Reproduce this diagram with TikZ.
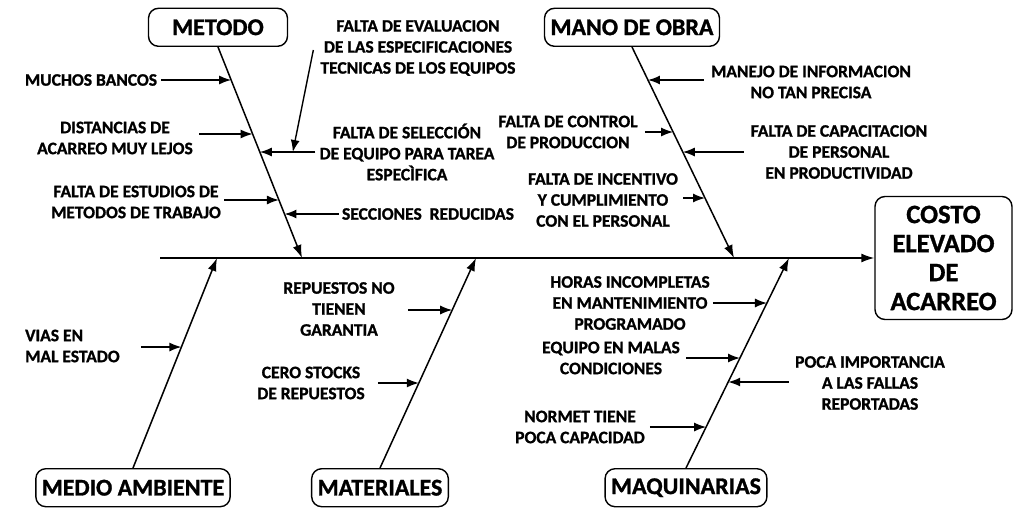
\documentclass[tikz,border=0pt]{standalone}
\usepackage{fontspec}
\setmainfont{Carlito}[BoldFeatures={FakeBold=1.2}]
\usepackage{tikz}
\usetikzlibrary{arrows.meta,calc}

\tikzset{
    catbox/.style={draw, line width=1.4pt, rounded corners=10pt, inner xsep=6pt,
        minimum height=38pt, font=\fontsize{24}{26}\selectfont\bfseries},
    cause/.style={inner sep=0pt, align=center, font=\fontsize{17.5}{21}\selectfont\bfseries},
    bone/.style={line width=1.5pt, -{Latex[length=13pt,width=9pt]}},
    causearrow/.style={line width=1.4pt, -{Latex[length=12pt,width=9pt]}}
}

\begin{document}
\begin{tikzpicture}[x=1pt,y=-1pt]
    \useasboundingbox (0,0) rectangle (1015,508);
    % Spine and effect
    \node[draw, line width=1.4pt, rounded corners=10pt, align=center,
        minimum width=137pt, minimum height=123pt,
        font=\fontsize{26.5}{29}\selectfont\bfseries] (costo) at (943.5,258)
        {COSTO\\ELEVADO\\DE\\ACARREO};
    \coordinate (spineStart) at (160,258);
    \draw[bone] (spineStart) -- (costo.west);
    % Bones
    \coordinate (tA) at (218,47);   \coordinate (bA) at (302,258);
    \coordinate (tB) at (632,47);   \coordinate (bB) at (734,258);
    \coordinate (tC) at (133,468);  \coordinate (bC) at (217,258);
    \coordinate (tD) at (380,468);  \coordinate (bD) at (476,258);
    \coordinate (tE) at (686,468);  \coordinate (bE) at (789,258);
    \node[catbox, anchor=south, minimum width=139pt] (metodo) at (tA) {METODO};
    \node[catbox, anchor=south] (manoobra) at (tB) {MANO DE OBRA};
    \node[catbox, anchor=north] (medio) at (tC) {MEDIO AMBIENTE};
    \node[catbox, anchor=north] (materiales) at (tD) {MATERIALES};
    \node[catbox, anchor=north] (maquinarias) at (tE) {MAQUINARIAS};
    \draw[bone] (metodo.south) -- (bA);
    \draw[bone] (manoobra.south) -- (bB);
    \draw[bone] (medio.north) -- (bC);
    \draw[bone] (materiales.north) -- (bD);
    \draw[bone] (maquinarias.north) -- (bE);

    % Metodo
    \node[cause] (m1) at (91,80) {MUCHOS BANCOS};
    \coordinate (m1e) at (intersection of tA--bA and 0,80--1,80);
    \draw[causearrow] (m1.east |- m1e) ++(4,0) -- (m1e);
    \node[cause] (m2) at (115,138) {DISTANCIAS DE\\ACARREO MUY LEJOS};
    \coordinate (m2e) at (intersection of tA--bA and 0,134--1,134);
    \draw[causearrow] (m2.east |- m2e) ++(6,0) -- (m2e);
    \node[cause] (m3) at (136,202) {FALTA DE ESTUDIOS DE\\METODOS DE TRABAJO};
    \coordinate (m3e) at (intersection of tA--bA and 0,200--1,200);
    \draw[causearrow] (m3.east |- m3e) ++(3,0) -- (m3e);
    \node[cause] (m4) at (407,152) {FALTA DE SELECCIÓN\\DE EQUIPO PARA TAREA\\ESPECÌFICA};
    \coordinate (m4e) at (intersection of tA--bA and 0,152--1,152);
    \draw[causearrow] (m4.west |- m4e) ++(-4,0) -- (m4e);
    \node[cause] (m5) at (418,48) {FALTA DE EVALUACION\\DE LAS ESPECIFICACIONES\\TECNICAS DE LOS EQUIPOS};
    \draw[causearrow] (m5.west) ++(-7,2) -- ($(m4e)+(33,0)$);
    \node[cause] (m6) at (428,214) {SECCIONES\ \ REDUCIDAS};
    \coordinate (m6e) at (intersection of tA--bA and 0,214--1,214);
    \draw[causearrow] (m6.west |- m6e) ++(-3,0) -- (m6e);

    % Mano de obra
    \node[cause] (n1) at (811,82) {MANEJO DE INFORMACION\\NO TAN PRECISA};
    \coordinate (n1e) at (intersection of tB--bB and 0,80--1,80);
    \draw[causearrow] (n1.west |- n1e) ++(-7,0) -- (n1e);
    \node[cause] (n2) at (568,132) {FALTA DE CONTROL\\DE PRODUCCION};
    \coordinate (n2e) at (intersection of tB--bB and 0,132--1,132);
    \draw[causearrow] (n2.east |- n2e) ++(7,0) -- (n2e);
    \node[cause] (n3) at (839,152) {FALTA DE CAPACITACION\\DE PERSONAL\\EN PRODUCTIVIDAD};
    \coordinate (n3e) at (intersection of tB--bB and 0,152--1,152);
    \draw[causearrow] (n3.west |- n3e) ++(-7,0) -- (n3e);
    \node[cause] (n4) at (603,200) {FALTA DE INCENTIVO\\Y CUMPLIMIENTO\\CON EL PERSONAL};
    \coordinate (n4e) at (intersection of tB--bB and 0,198--1,198);
    \draw[causearrow] (n4.east |- n4e) ++(5,0) -- (n4e);

    % Medio ambiente
    \node[cause, anchor=west, align=left] (c1) at (25,346) {VIAS EN\\MAL ESTADO};
    \coordinate (c1e) at (intersection of tC--bC and 0,347--1,347);
    \draw[causearrow] (c1.east |- c1e) ++(21,0) -- (c1e);

    % Materiales
    \node[cause] (d1) at (339,309) {REPUESTOS NO\\TIENEN\\GARANTIA};
    \coordinate (d1e) at (intersection of tD--bD and 0,310--1,310);
    \draw[causearrow] (d1.east |- d1e) ++(13,0) -- (d1e);
    \node[cause] (d2) at (311,383) {CERO STOCKS\\DE REPUESTOS};
    \coordinate (d2e) at (intersection of tD--bD and 0,383--1,383);
    \draw[causearrow] (d2.east |- d2e) ++(13,0) -- (d2e);

    % Maquinarias
    \node[cause] (e1) at (630,303) {HORAS INCOMPLETAS\\EN MANTENIMIENTO\\PROGRAMADO};
    \coordinate (e1e) at (intersection of tE--bE and 0,303--1,303);
    \draw[causearrow] (e1.east |- e1e) ++(3,0) -- (e1e);
    \node[cause] (e2) at (611,358) {EQUIPO EN MALAS\\CONDICIONES};
    \coordinate (e2e) at (intersection of tE--bE and 0,358--1,358);
    \draw[causearrow] (e2.east |- e2e) ++(6,0) -- (e2e);
    \node[cause] (e3) at (870,383) {POCA IMPORTANCIA\\A LAS FALLAS\\REPORTADAS};
    \coordinate (e3e) at (intersection of tE--bE and 0,382--1,382);
    \draw[causearrow] (e3.west |- e3e) ++(-6,0) -- (e3e);
    \node[cause] (e4) at (580,427) {NORMET TIENE\\POCA CAPACIDAD};
    \coordinate (e4e) at (intersection of tE--bE and 0,427--1,427);
    \draw[causearrow] (e4.east |- e4e) ++(5,0) -- (e4e);
\end{tikzpicture}
\end{document}
